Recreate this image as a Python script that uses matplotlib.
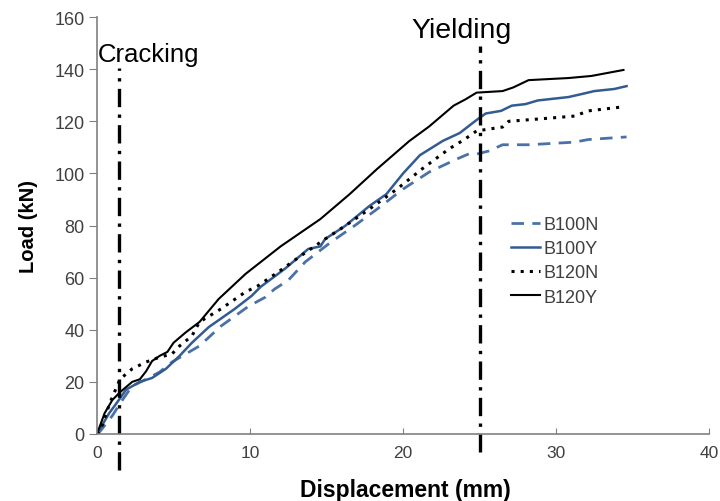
import matplotlib.pyplot as plt

plt.rcParams['font.family'] = ['Liberation Sans', 'DejaVu Sans']

# Load-displacement data (mm, kN)
b100n_x = [0, 0.2, 1.0, 1.7, 2.3, 3.2, 4.1, 4.9, 6.0, 6.7, 8.1, 9.9, 11.0, 11.6, 12.5, 13.6, 15.3,
           16.8, 18.3, 20.0, 21.7, 22.6, 23.5, 24.3, 24.8, 25.6, 26.5, 28.2, 31.2, 32.1, 34.6]
b100n_y = [0, 1, 7, 13.4, 18.4, 21, 23.8, 27.6, 31.4, 33.8, 41.4, 49, 52.5, 55.6, 59, 66, 73.7,
           79.8, 86.3, 94, 100.5, 103, 105.5, 107.5, 107.4, 108.6, 111, 111, 112, 113, 114]

b100y_x = [0, 0.8, 1.3, 1.9, 2.8, 3.6, 4.5, 5.4, 6.2, 7.3, 9.0, 10.1, 10.7, 12.3, 13.8, 14.6, 14.9,
           16.2, 17.8, 18.9, 20.0, 21.1, 22.6, 23.7, 24.8, 25.4, 26.4, 27.1, 28.0, 28.8, 30.8,
           31.7, 32.5, 33.8, 34.6]
b100y_y = [0, 8, 12, 17, 20, 21.5, 25, 30, 35, 41, 48, 53, 56.5, 63.5, 71, 72, 74.8,
           79.8, 87.5, 92, 100, 107, 112.5, 115.5, 120.5, 123, 124, 126, 126.6, 128, 129.3,
           130.5, 131.6, 132.4, 133.5]

b120n_x = [0, 0.2, 0.85, 1.5, 2.3, 3.2, 4.1, 4.9, 5.4, 6.2, 6.7, 8.1, 9.7, 10.5, 11.8, 13.3, 14.9,
           16.2, 17.8, 19.6, 21.3, 23.0, 24.0, 24.8, 26.5, 26.9, 29.1, 31.2, 32.1, 34.3]
b120n_y = [0, 1, 12, 21, 25, 27.6, 29.5, 30.7, 33.8, 37.6, 43, 48, 54.5, 56.8, 62, 68.3, 74.8,
           79.8, 86.3, 94, 102, 109.4, 113, 116.3, 117.8, 120, 121, 122, 124, 125.5]

b120y_x = [0, 0.5, 1.0, 1.5, 2.3, 2.8, 3.2, 3.6, 4.1, 4.6, 5.0, 5.8, 6.7, 7.95, 9.7, 12.0, 14.6,
           16.5, 18.3, 20.4, 21.7, 23.3, 24.1, 24.8, 26.5, 27.2, 28.2, 30.8, 32.3, 34.4]
b120y_y = [0, 8, 13, 16, 20, 21, 24, 28, 30, 31.5, 35, 39, 43, 51.8, 61.4, 72, 82.5,
           92, 101.7, 112.4, 118, 126, 128.5, 131, 131.6, 133, 135.8, 136.6, 137.4, 139.7]

crack_x = 1.45
yield_x = 25

fig = plt.figure(figsize=(7.2, 5.02), dpi=100)
ax = fig.add_axes([0.1347, 0.1335, 0.8503, 0.8305])

blue_dash = '#4a72a8'
blue_solid = '#335b93'
ax.plot(b100n_x, b100n_y, color=blue_dash, lw=2.0, dashes=(4.5, 3), label='B100N')
ax.plot(b100y_x, b100y_y, color=blue_solid, lw=1.8, label='B100Y')
ax.plot(b120n_x, b120n_y, color='black', lw=2.2, dashes=(1, 2), label='B120N')
ax.plot(b120y_x, b120y_y, color='black', lw=1.5, label='B120Y')

# cracking / yielding markers
mark_dash = (5.5, 2.2, 1, 2.2)
ax.plot([crack_x, crack_x], [-14, 140.5], color='black', lw=2.4, dashes=mark_dash, clip_on=False)
ax.plot([yield_x, yield_x], [-7, 149], color='black', lw=2.4, dashes=mark_dash, clip_on=False)
ax.text(0.05, 143.1, 'Cracking', fontsize=18.5, ha='left', va='baseline')
ax.text(23.8, 152.3, 'Yielding', fontsize=20.5, ha='center', va='baseline')

ax.set_xlim(0, 40)
ax.set_ylim(0, 160)
ax.set_xticks([0, 10, 20, 30, 40])
ax.set_yticks(range(0, 161, 20))
ax.set_xlabel('Displacement (mm)', fontsize=16.5, fontweight='bold')
ax.set_ylabel('Load (kN)', fontsize=14.5, fontweight='bold')
ax.xaxis.set_label_coords(0.504, -0.105)
ax.yaxis.set_label_coords(-0.097, 0.5)

for side in ['top', 'right']:
    ax.spines[side].set_visible(False)
for side in ['left', 'bottom']:
    ax.spines[side].set_color('#808080')
    ax.spines[side].set_linewidth(1.2)
ax.tick_params(axis='y', direction='out', length=6, color='#808080', labelsize=13,
               labelcolor='#404040', pad=3)
ax.tick_params(axis='x', direction='in', length=4, color='#808080', labelsize=12.5,
               labelcolor='#404040', pad=8)

leg = ax.legend(loc='upper left', bbox_to_anchor=(0.677, 0.523), frameon=False, fontsize=13,
                handlelength=1.6, handletextpad=0.2, labelspacing=0.4,
                borderpad=0, borderaxespad=0)
for t in leg.get_texts():
    t.set_color('#404040')

fig.savefig('out.png', dpi=100)
